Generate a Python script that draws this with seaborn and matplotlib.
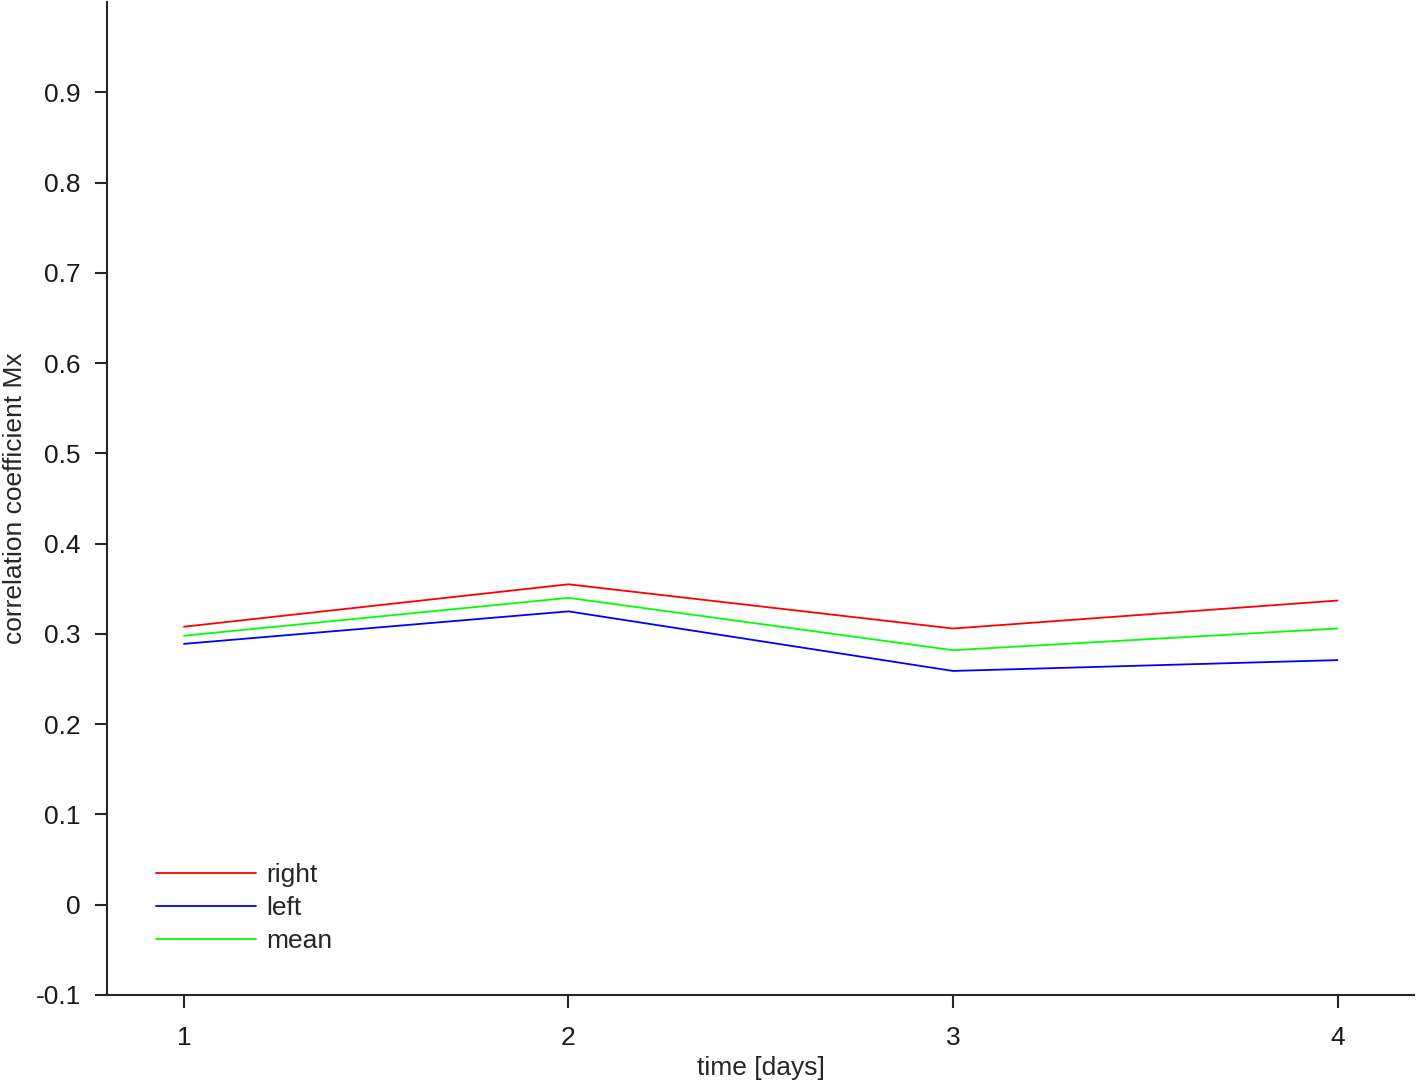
import pandas as pd
import seaborn as sns
import matplotlib.pyplot as plt

# values
days = [1, 2, 3, 4]
right = [0.308, 0.355, 0.306, 0.337]
left = [0.289, 0.325, 0.259, 0.271]
mean = [0.298, 0.340, 0.282, 0.306]

series_names = ["right", "left", "mean"]
series_colors = ["#ff0000", "#0000ff", "#00ff00"]
y_ticks = [-0.1, 0, 0.1, 0.2, 0.3, 0.4, 0.5, 0.6, 0.7, 0.8, 0.9]
y_tick_labels = ["-0.1", "0", "0.1", "0.2", "0.3", "0.4", "0.5", "0.6", "0.7", "0.8", "0.9"]


def main():
    # build a long-form table for seaborn
    df = pd.concat([
        pd.DataFrame({"day": days, "value": right, "side": "right"}),
        pd.DataFrame({"day": days, "value": left, "side": "left"}),
        pd.DataFrame({"day": days, "value": mean, "side": "mean"}),
    ])

    sns.set_style("ticks")
    plt.rcParams["font.family"] = ["Liberation Sans", "DejaVu Sans"]

    fig = plt.figure(figsize=(14.18, 10.85), dpi=100)
    ax = fig.add_axes([0.0755, 0.083, 0.922, 0.915])

    sns.lineplot(data=df, x="day", y="value", hue="side", hue_order=series_names,
                 palette=series_colors, linewidth=1.3, ax=ax)

    ax.set_xlim(0.8, 4.2)
    ax.set_ylim(-0.1, 1.0)
    ax.set_xticks(days)
    ax.set_xticklabels([str(d) for d in days])
    ax.set_yticks(y_ticks)
    ax.set_yticklabels(y_tick_labels)

    ax.set_xlabel("time [days]", fontsize=19, labelpad=5)
    ax.set_ylabel("correlation coefficient Mx", fontsize=19, labelpad=6)

    # MATLAB-like axes: only left/bottom, outward ticks
    for side in ["top", "right"]:
        ax.spines[side].set_visible(False)
    for side in ["left", "bottom"]:
        ax.spines[side].set_color("#262626")
        ax.spines[side].set_linewidth(1.5)
    ax.tick_params(axis="x", pad=13)
    ax.tick_params(axis="y", pad=10)
    ax.tick_params(axis="both", direction="out", length=9, width=1.5,
                   color="#262626", labelsize=19, labelcolor="#1a1a1a")

    leg = ax.legend(loc="lower left", bbox_to_anchor=(0.019, 0.018), frameon=False,
                    fontsize=19, handlelength=3.8, handletextpad=0.4, labelspacing=0.35)
    leg.set_title(None)

    plt.savefig("out.png", dpi=100)


if __name__ == "__main__":
    main()
